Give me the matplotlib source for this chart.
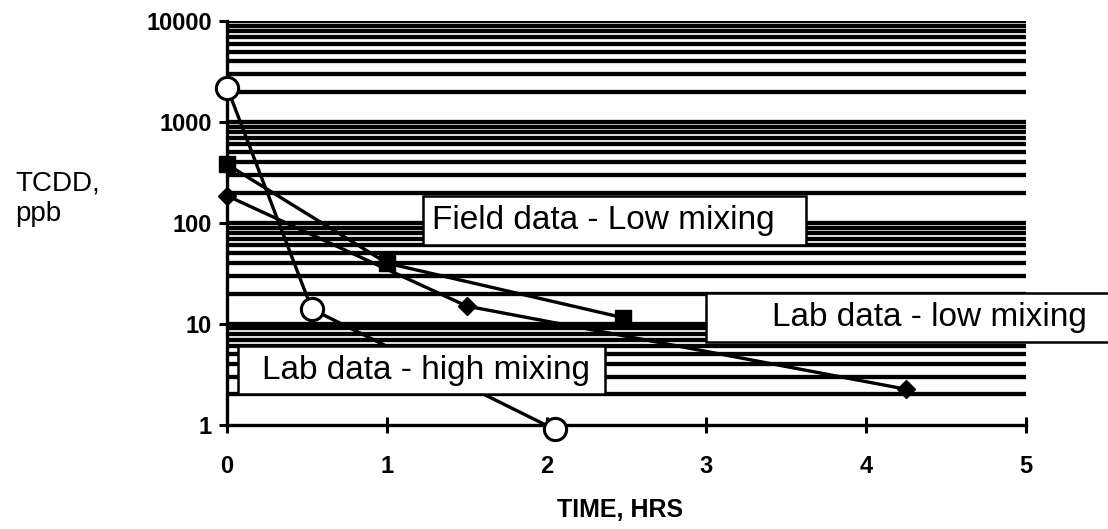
import matplotlib
matplotlib.use("Agg")
import matplotlib.pyplot as plt
from matplotlib.patches import Rectangle

plt.rcParams['font.family'] = ['Liberation Sans', 'DejaVu Sans']

# данные: лаборатория, сильное перемешивание (кружки)
high_x = [0.0, 0.53, 2.05]
high_y = [2200, 14, 0.9]
# полевые данные, слабое перемешивание (квадраты)
field_x = [0.0, 1.0, 2.48]
field_y = [380, 40, 11.5]
# лаборатория, слабое перемешивание (ромбы)
low_x = [0.0, 1.5, 4.25]
low_y = [186, 15, 2.25]

x_ticks = [0, 1, 2, 3, 4, 5]
y_ticks = [1, 10, 100, 1000, 10000]
y_labels = ['1', '10', '100', '1000', '10000']

fig = plt.figure(figsize=(11.08, 5.29), dpi=100)
ax = fig.add_axes([0.205, 0.197, 0.721, 0.763])
ax.set_yscale('log')
ax.set_xlim(0, 5)
ax.set_ylim(1, 10000)

# густая сетка по делениям логарифмической шкалы
for k in [1, 10, 100, 1000]:
    for m in range(2, 11):
        ax.axhline(k * m, color='black', lw=3.1, zorder=1)

ax.plot(high_x, high_y, color='black', lw=2.4, marker='o', ms=16,
        mfc='white', mec='black', mew=2.2, zorder=4, clip_on=False)
ax.plot(field_x, field_y, color='black', lw=2.4, marker='s', ms=11,
        mfc='black', mec='black', zorder=4, clip_on=False)
ax.plot(low_x, low_y, color='black', lw=2.4, marker='D', ms=9,
        mfc='black', mec='black', zorder=4, clip_on=False)

# подписи в рамках (поверх сетки и линий)
boxes = [
    (1.225, 60, 2.40, 126, 'Field data - Low mixing', 1.28, 106),
    (0.065, 2.0, 2.30, 4.0, 'Lab data - high mixing', 0.22, 3.45),
    (3.0, 6.6, 2.6, 13.8, 'Lab data - low mixing', 3.41, 11.5),
]
for bx, by, bw, bh, txt, tx, ty in boxes:
    r = Rectangle((bx, by), bw, bh, facecolor='white', edgecolor='black',
                  lw=1.8, zorder=6, clip_on=False)
    ax.add_patch(r)
    ax.text(tx, ty, txt, fontsize=24, va='center', ha='left', zorder=7)

for s in ['top', 'right']:
    ax.spines[s].set_visible(False)
ax.spines['left'].set_linewidth(2.4)
ax.spines['bottom'].set_linewidth(2.4)

ax.set_xticks(x_ticks)
ax.set_xticklabels([str(v) for v in x_ticks], fontsize=17, fontweight='bold')
ax.set_yticks(y_ticks)
ax.set_yticklabels(y_labels, fontsize=17, fontweight='bold')
ax.yaxis.set_minor_locator(matplotlib.ticker.NullLocator())
ax.tick_params(axis='x', direction='inout', length=12, width=2.2, pad=16)
ax.tick_params(axis='y', direction='out', length=6, width=2.2, pad=5)

fig.text(0.014, 0.624, 'TCDD,\nppb', fontsize=20, va='center', ha='left',
         linespacing=1.2)
fig.text(0.56, 0.035, 'TIME, HRS', fontsize=18, fontweight='bold',
         va='center', ha='center')

fig.savefig('out.png', dpi=100)
